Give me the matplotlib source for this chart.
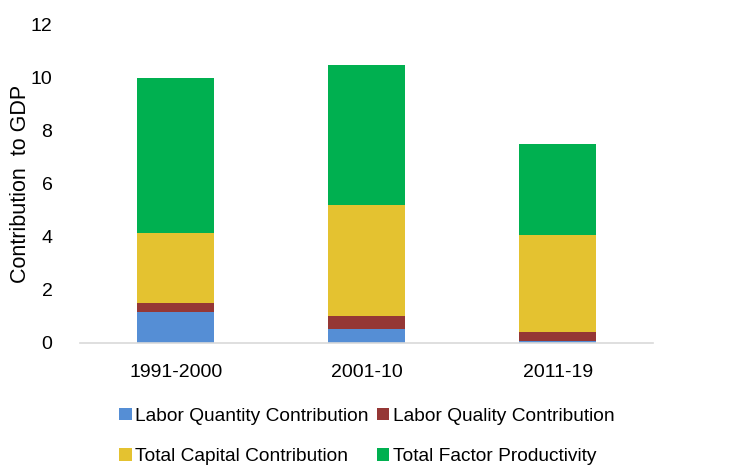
import matplotlib
matplotlib.use("Agg")
import matplotlib.pyplot as plt
import numpy as np

plt.rcParams['font.family'] = ['Liberation Sans', 'DejaVu Sans']

categories = ["1991-2000", "2001-10", "2011-19"]
labor_quantity = [1.18, 0.54, 0.06]
labor_quality = [0.32, 0.49, 0.35]
capital = [2.63, 4.15, 3.66]
tfp = [5.86, 5.30, 3.43]
series_names = ["Labor Quantity Contribution", "Labor Quality Contribution",
                "Total Capital Contribution", "Total Factor Productivity"]
colors = ["#558ED5", "#953735", "#E4C230", "#00B050"]
yticks = [0, 2, 4, 6, 8, 10, 12]

fig = plt.figure(figsize=(7.29, 4.66), dpi=100)
ax = fig.add_axes([0.110, 0.264, 0.786, 0.684])

x = np.arange(len(categories))
bottom = np.zeros(len(categories))
handles = []
for vals, name, c in zip([labor_quantity, labor_quality, capital, tfp], series_names, colors):
    b = ax.bar(x, vals, width=0.4, bottom=bottom, color=c, label=name)
    handles.append(b)
    bottom += np.array(vals)

ax.set_xlim(-0.5, 2.5)
ax.set_ylim(0, 12)
ax.set_yticks(yticks)
ax.set_xticks(x)
ax.set_xticklabels(categories)
for s in ["top", "right", "left"]:
    ax.spines[s].set_visible(False)
ax.spines["bottom"].set_color("#D9D9D9")
ax.spines["bottom"].set_linewidth(1.2)
ax.tick_params(axis="both", length=0, labelsize=14, colors="#000000")
ax.tick_params(axis="y", pad=20)
ax.tick_params(axis="x", pad=15)
ax.set_ylabel("Contribution  to GDP", fontsize=15.5)
ax.yaxis.set_label_coords(-0.085, 0.5)

order = [0, 2, 1, 3]
leg = fig.legend(handles=[handles[i] for i in order], labels=[series_names[i] for i in order],
                 ncol=2, loc="lower left",
                 bbox_to_anchor=(0.153, -0.014), frameon=False, fontsize=13.8,
                 handlelength=0.65, handleheight=0.65, handletextpad=0.2,
                 columnspacing=0.4, labelspacing=1.2, borderaxespad=0)

fig.savefig("out.png", dpi=100)
